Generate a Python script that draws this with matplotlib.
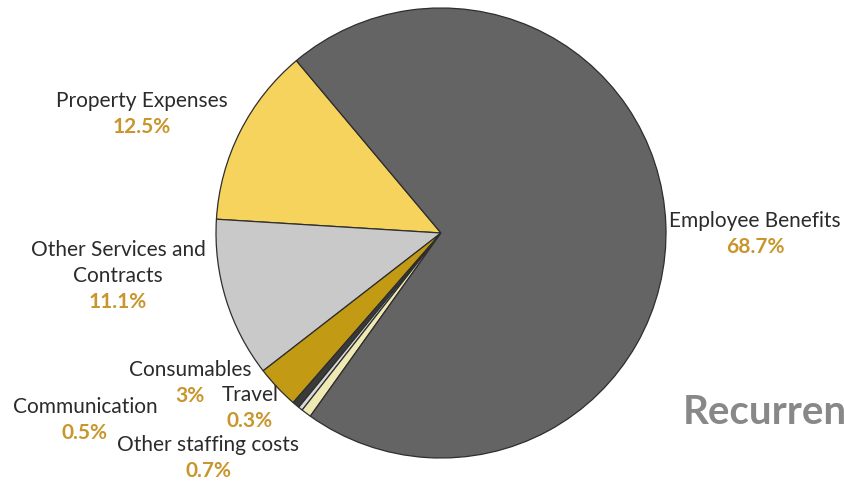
import matplotlib.pyplot as plt

# data
labels = ['Property Expenses', 'Other Services and\nContracts', 'Consumables',
          'Communication', 'Travel', 'Other staffing costs', 'Employee Benefits']
pcts = [12.5, 11.1, 3, 0.5, 0.3, 0.7, 68.7]
pct_txt = ['12.5%', '11.1%', '3%', '0.5%', '0.3%', '0.7%', '68.7%']
colors = ['#F5D35C', '#C9C9C9', '#C29A14', '#3A3A3A', '#D8D8D8', '#EFEAB4', '#646464']

# first-line label spots (pixels, from top-left)
spots = [(142, 101), (118, 250), (190, 370), (85, 407), (250, 395), (208, 445), (755, 221)]

W, H = 844, 484
fig = plt.figure(figsize=(W / 100, H / 100), dpi=100)
ax = fig.add_axes([0, 0, 1, 1])

cx, cy, r = 441, H - 233, 225
wedges, _ = ax.pie(pcts, colors=colors, startangle=130, counterclock=True,
                   center=(cx, cy), radius=r, frame=True,
                   wedgeprops=dict(edgecolor='#2e2e2e', linewidth=0.9))
ax.set_xlim(0, W)
ax.set_ylim(0, H)
ax.set_aspect('equal')
ax.axis('off')

fnt = 'Lato'
step = 26
for lab, p, (x, y) in zip(labels, pct_txt, spots):
    lines = lab.split('\n')
    for i, ln in enumerate(lines):
        ax.text(x, H - y - step * i, ln, ha='center', va='center', fontsize=15,
                color='#2b2b2b', family=fnt)
    ax.text(x, H - y - step * len(lines), p, ha='center', va='center',
            fontsize=15, color='#C8962C', fontweight='bold', family=fnt)

# title mostly out of frame, as in the source crop
ax.text(683, H - 413, 'Recurrent', ha='left', va='center', fontsize=29,
        color='#888888', fontweight='bold', family=fnt, clip_on=False)

fig.savefig('out.png', dpi=100)
